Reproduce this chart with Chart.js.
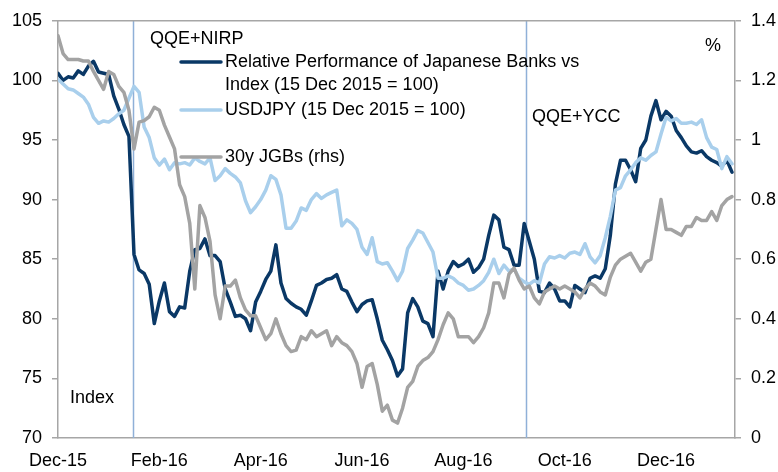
<!DOCTYPE html>
<html>
<head>
<meta charset="utf-8">
<script src="https://cdn.jsdelivr.net/npm/chart.js@4.4.0/dist/chart.umd.min.js"></script>
<style>
  html, body { margin: 0; padding: 0; background: #fff; }
</style>
</head>
<body>
<canvas id="myChart" width="778" height="472"></canvas>
<script>
// x tick labels, one every 20 samples
const tickLabels = ['Dec-15', 'Feb-16', 'Apr-16', 'Jun-16', 'Aug-16', 'Oct-16', 'Dec-16'];
const tickEvery = 20;
const lastX = 133.6;

// policy events, in sample units
const eventNames = ['QQE+NIRP', 'QQE+YCC'];
const eventAt = [14.8, 92.3];

// relative performance of japanese banks vs index (15 Dec 2015 = 100)
const banks = [
  100.6, 100.0, 100.3, 100.2, 100.8, 100.5, 101.2, 101.6, 100.7, 100.6,
  100.5, 98.7, 97.6, 96.3, 95.3, 85.4, 84.1, 83.8, 82.9, 79.6,
  81.5, 83.0, 80.6, 80.2, 81.0, 80.9, 84.0, 85.8, 85.9, 86.7,
  85.3, 85.3, 84.8, 82.5, 81.4, 80.2, 80.3, 80.0, 79.0, 81.4,
  82.3, 83.3, 84.0, 86.2, 83.0, 81.7, 81.3, 81.0, 80.8, 80.3,
  81.5, 82.8, 83.0, 83.3, 83.4, 83.7, 82.5, 82.3, 81.4, 80.6,
  81.2, 81.5, 81.6, 80.0, 78.2, 77.4, 76.5, 75.2, 75.8, 80.5,
  81.7, 81.0, 79.8, 79.6, 78.5, 84.0, 82.5, 84.0, 84.8, 84.4,
  84.6, 85.0, 83.9, 84.3, 85.0, 87.0, 88.7, 88.3, 86.0, 85.8,
  84.5, 84.5, 88.0, 86.5, 85.0, 82.3, 82.2, 83.0, 82.5, 81.5,
  81.5, 81.0, 82.8, 82.5, 82.2, 83.4, 83.6, 83.4, 84.2, 87.0,
  91.3, 93.3, 93.3, 92.5, 91.5, 94.3, 95.0, 97.0, 98.3, 96.7,
  97.4, 97.0, 95.8, 95.2, 94.5, 94.0, 93.9, 94.1, 93.6, 93.3,
  93.1, 92.8, 93.3, 92.3
];

// USDJPY (15 Dec 2015 = 100)
const usdjpy = [
  100.1, 99.7, 99.3, 99.2, 98.9, 98.6, 98.0, 96.9, 96.4, 96.6,
  96.5, 96.8, 97.2, 97.5, 98.5, 99.5, 99.0, 96.1, 95.2, 93.5,
  92.9, 93.4, 92.5, 93.1, 93.0, 93.1, 92.9, 93.5, 93.2, 93.0,
  93.5, 91.6, 92.0, 92.6, 92.2, 91.9, 91.4, 89.9, 88.9, 89.4,
  90.0, 90.8, 92.0, 91.7, 90.4, 87.6, 87.6, 88.2, 89.3, 89.1,
  90.0, 90.5, 90.1, 90.4, 90.6, 90.8, 87.8, 88.3, 88.0, 87.5,
  86.0, 85.4, 86.8, 84.8, 84.6, 84.7, 84.0, 83.2, 84.0, 85.9,
  86.6, 87.4, 87.2, 86.4, 85.6, 83.4, 83.4, 83.6, 83.4, 83.0,
  82.8, 82.4, 82.5, 82.8, 83.2, 83.9, 85.0, 83.8, 84.5, 84.0,
  84.2, 83.4, 83.1, 82.9, 83.2, 83.0, 84.6, 85.2, 85.1, 85.3,
  85.1, 85.5, 85.6, 85.4, 86.3, 85.2, 84.7, 85.3, 86.8, 88.6,
  90.8, 91.0, 92.0, 92.5, 93.1, 93.5, 93.3, 93.7, 94.0, 95.5,
  96.9, 96.6, 96.8, 96.4, 96.4, 96.5, 96.3, 96.7, 95.2, 94.4,
  94.2, 92.6, 93.6, 93.0
];

// 30y JGB yield, % (rhs)
const jgb30 = [
  1.35, 1.29, 1.27, 1.27, 1.27, 1.265, 1.265, 1.23, 1.20, 1.17,
  1.23, 1.22, 1.18, 1.16, 1.10, 0.97, 1.06, 1.065, 1.078, 1.11,
  1.10, 1.05, 1.01, 0.97, 0.85, 0.81, 0.72, 0.50, 0.78, 0.74,
  0.66, 0.48, 0.40, 0.51, 0.51, 0.53, 0.47, 0.43, 0.41, 0.41,
  0.37, 0.33, 0.35, 0.40, 0.35, 0.31, 0.29, 0.295, 0.34, 0.33,
  0.36, 0.34, 0.35, 0.36, 0.31, 0.34, 0.32, 0.31, 0.29, 0.25,
  0.17, 0.24, 0.25, 0.18, 0.09, 0.11, 0.06, 0.05, 0.10, 0.17,
  0.19, 0.24, 0.26, 0.27, 0.29, 0.33, 0.38, 0.42, 0.40, 0.34,
  0.34, 0.34, 0.32, 0.34, 0.37, 0.42, 0.52, 0.52, 0.47, 0.55,
  0.57, 0.53, 0.50, 0.51, 0.47, 0.45, 0.49, 0.50, 0.51, 0.50,
  0.51, 0.50, 0.49, 0.47, 0.50, 0.52, 0.51, 0.49, 0.48, 0.54,
  0.58, 0.60, 0.61, 0.62, 0.59, 0.56, 0.59, 0.60, 0.70, 0.80,
  0.70, 0.70, 0.69, 0.68, 0.71, 0.71, 0.74, 0.73, 0.73, 0.76,
  0.73, 0.78, 0.80, 0.81
];

const NAVY = '#0a3866';
const LIGHT = '#a9cfec';
const GREY = '#a3a3a3';
const AXIS = '#a6a6a6';
const FONT = "'Liberation Sans', Arial, sans-serif";

Chart.defaults.font.family = FONT;
Chart.defaults.font.size = 18;
Chart.defaults.color = '#000';

const toPoints = (arr) => arr.map((v, i) => ({ x: i, y: v }));

// vertical event lines, top border, legend and notes
const overlay = {
  id: 'overlay',
  beforeDatasetsDraw(chart) {
    const c = chart.ctx;
    const a = chart.chartArea;
    const xs = chart.scales.x;
    c.save();
    c.strokeStyle = '#8fb0d8';
    c.lineWidth = 1.5;
    eventAt.forEach((d) => {
      const px = Math.round(xs.getPixelForValue(d)) + 0.5;
      c.beginPath();
      c.moveTo(px, a.top);
      c.lineTo(px, a.bottom);
      c.stroke();
    });
    c.strokeStyle = AXIS;
    c.beginPath();
    c.moveTo(a.left, a.top);
    c.lineTo(a.right, a.top);
    c.stroke();
    c.restore();
  },
  afterDraw(chart) {
    const c = chart.ctx;
    c.save();
    c.font = '18px ' + FONT;
    c.fillStyle = '#000';
    c.textBaseline = 'middle';
    c.textAlign = 'left';

    c.fillText(eventNames[0], 150, 39);
    c.fillText(eventNames[1], 532, 117);
    c.fillText('%', 705, 46);
    c.fillText('Index', 70, 398);

    const items = [
      { color: GREY, y: 157, lines: ['30y JGBs (rhs)'] },
      { color: LIGHT, y: 110, lines: ['USDJPY (15 Dec 2015 = 100)'] },
      { color: NAVY, y: 62, lines: ['Relative Performance of Japanese Banks vs', 'Index (15 Dec 2015 = 100)'] }
    ];
    items.forEach((it) => {
      c.strokeStyle = it.color;
      c.lineWidth = 3.5;
      c.lineCap = 'round';
      c.beginPath();
      c.moveTo(181, it.y);
      c.lineTo(221, it.y);
      c.stroke();
      it.lines.forEach((t, k) => c.fillText(t, 225, it.y + k * 23));
    });
    c.restore();
  }
};

const ctx = document.getElementById('myChart').getContext('2d');
const myChart = new Chart(ctx, {
  type: 'line',
  data: {
    datasets: [
      { label: '30y JGBs (rhs)', data: toPoints(jgb30), yAxisID: 'y1', borderColor: GREY, order: 0 },
      { label: 'USDJPY (15 Dec 2015 = 100)', data: toPoints(usdjpy), yAxisID: 'y', borderColor: LIGHT, order: 1 },
      { label: 'Relative Performance of Japanese Banks vs Index (15 Dec 2015 = 100)', data: toPoints(banks), yAxisID: 'y', borderColor: NAVY, order: 2 }
    ]
  },
  options: {
    responsive: false,
    animation: false,
    devicePixelRatio: 1,
    elements: {
      point: { radius: 0 },
      line: { borderWidth: 3.5, tension: 0, borderJoinStyle: 'round', borderCapStyle: 'round' }
    },
    layout: { padding: { top: 16, left: 0, right: 0, bottom: 0 } },
    plugins: { legend: { display: false }, tooltip: { enabled: false } },
    scales: {
      x: {
        type: 'linear',
        min: 0,
        max: lastX,
        afterFit: (s) => { s.height = 34; },
        grid: { display: false },
        border: { display: true, color: AXIS, width: 1.5 },
        ticks: {
          stepSize: tickEvery,
          includeBounds: false,
          autoSkip: false,
          maxRotation: 0,
          padding: 4,
          callback: (v) => tickLabels[v / tickEvery] || ''
        }
      },
      y: {
        position: 'left',
        min: 70,
        max: 105,
        afterFit: (s) => { s.width = 58; },
        grid: { drawOnChartArea: false, tickLength: 6, color: AXIS, lineWidth: 1.5 },
        border: { color: AXIS, width: 1.5 },
        ticks: { stepSize: 5, padding: 10 }
      },
      y1: {
        position: 'right',
        min: 0,
        max: 1.4,
        afterFit: (s) => { s.width = 43; },
        grid: { drawOnChartArea: false, tickLength: 6, color: AXIS, lineWidth: 1.5 },
        border: { color: AXIS, width: 1.5 },
        ticks: { stepSize: 0.2, padding: 10, callback: (v) => String(+v.toFixed(1)) }
      }
    }
  },
  plugins: [overlay]
});
</script>
</body>
</html>
